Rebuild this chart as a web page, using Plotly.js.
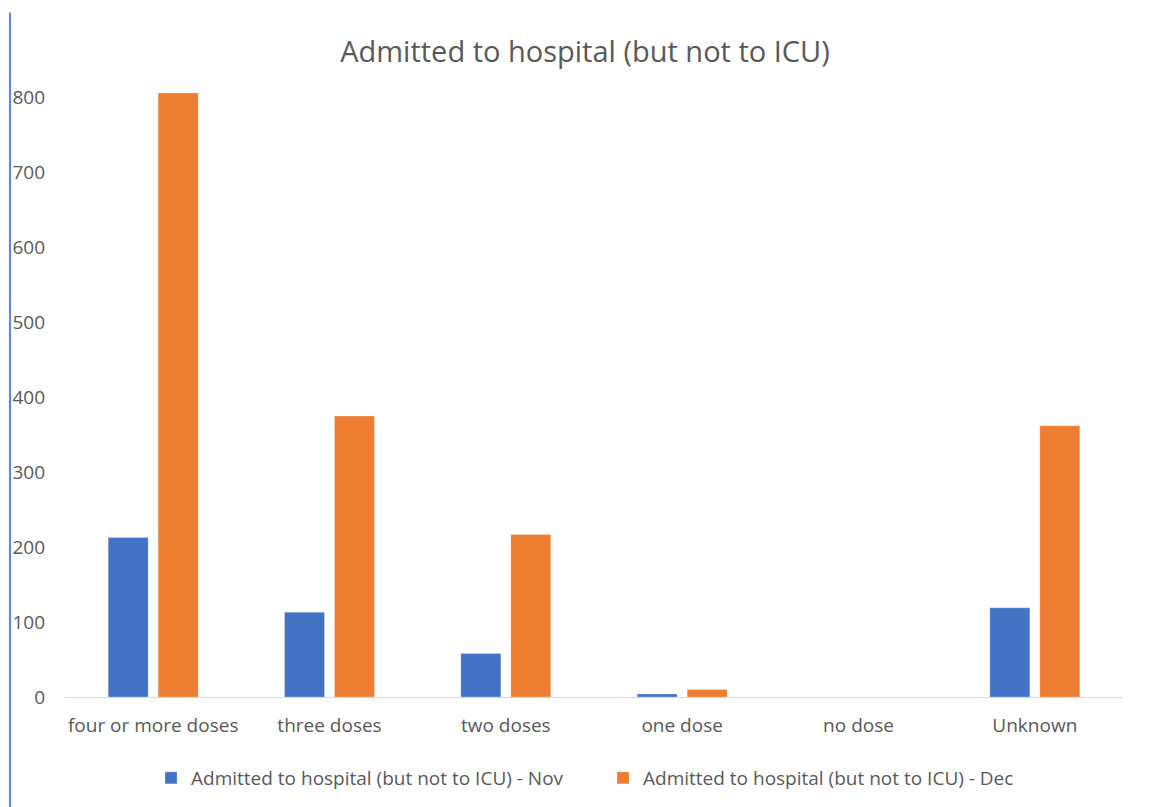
<!DOCTYPE html>
<html>
<head>
<meta charset="utf-8">
<script src="https://cdn.plot.ly/plotly-3.0.1.min.js"></script>
<style>
html,body{margin:0;padding:0;background:#fff;}
#chart{width:1151px;height:807px;}
</style>
</head>
<body>
<div id="chart"></div>
<script>
const categories = ["four or more doses", "three doses", "two doses", "one dose", "no dose", "Unknown"];
const novValues = [213, 113, 58, 4, 0, 119];
const decValues = [806, 375, 217, 10, 0, 362];
const seriesNames = ["Admitted to hospital (but not to ICU) - Nov", "Admitted to hospital (but not to ICU) - Dec"];
const yTicks = [0, 100, 200, 300, 400, 500, 600, 700, 800];
const chartTitle = "Admitted to hospital (but not to ICU)";

const FONT = "'Open Sans', 'Noto Sans', sans-serif";
const traces = [
  {type: "bar", name: seriesNames[0], x: categories, y: novValues,
   marker: {color: "#4472c4", line: {color: "rgba(255,255,255,0.5)", width: 0.5}}, hoverinfo: "x+y"},
  {type: "bar", name: seriesNames[1], x: categories, y: decValues,
   marker: {color: "#ed7d31", line: {color: "rgba(255,255,255,0.5)", width: 0.5}}, hoverinfo: "x+y"}
];
const layout = {
  width: 1151, height: 807,
  margin: {l: 65, r: 28, t: 59.5, b: 110},
  paper_bgcolor: "#fff", plot_bgcolor: "#fff",
  font: {family: FONT, color: "#595959", size: 19},
  title: {text: chartTitle, font: {family: FONT, size: 29, color: "#595959"},
          x: 585/1151, xref: "container", xanchor: "center", y: 1 - 52/807, yref: "container", yanchor: "middle"},
  barmode: "group", bargap: 0.433, bargroupgap: 0.2,
  showlegend: true,
  legend: {orientation: "h", x: 166/1151 - 0.013, xanchor: "left", xref: "container", y: 1 - 778/807, yref: "container", yanchor: "middle",
           font: {family: FONT, size: 19, color: "#595959"}, itemwidth: 30, tracegroupgap: 0,
           entrywidth: 407, entrywidthmode: "pixels"},
  xaxis: {type: "category", showline: true, linecolor: "#d9d9d9", linewidth: 1,
          showgrid: false, zeroline: false, ticks: "", ticklabelstandoff: 11,
          tickfont: {family: FONT, size: 19, color: "#595959"}},
  yaxis: {range: [0, 850], tickvals: yTicks, ticktext: yTicks.map(String), showgrid: false, zeroline: false,
          showline: false, ticks: "", ticklabelstandoff: 19,
          tickfont: {family: FONT, size: 19, color: "#595959"}},
  shapes: [{type: "line", xref: "paper", yref: "paper",
            x0: -55/1058, x1: -55/1058, y0: (697-12)/637.5, y1: (697-810)/637.5,
            line: {color: "#5b8be0", width: 2}}]
};
Plotly.newPlot("chart", traces, layout, {displayModeBar: false, responsive: false});
</script>
</body>
</html>
